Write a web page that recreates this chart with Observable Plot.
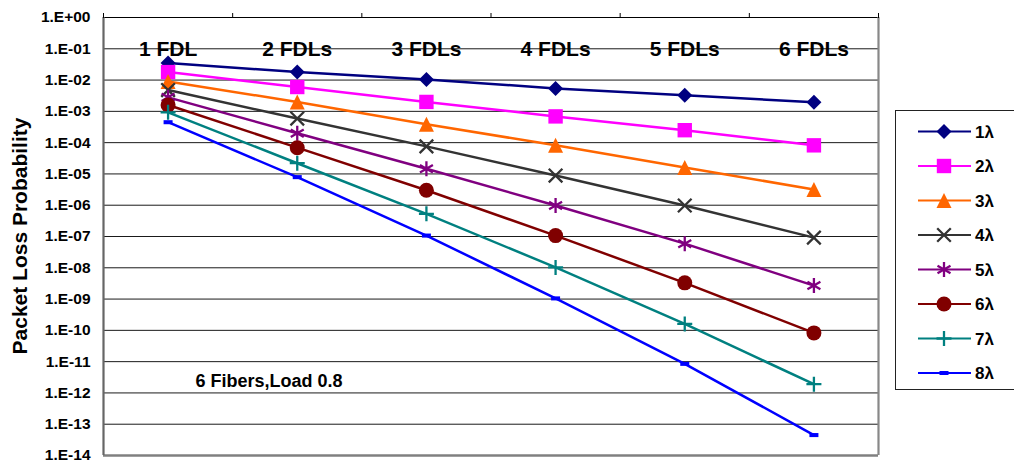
<!DOCTYPE html>
<html>
<head>
<meta charset="utf-8">
<script src="https://cdn.jsdelivr.net/npm/d3@7"></script>
<script src="https://cdn.jsdelivr.net/npm/@observablehq/plot@0.6"></script>
<style>
  html, body { margin: 0; padding: 0; background: #fff; overflow: hidden; }
  #wrap { position: relative; width: 1014px; height: 462px; font-family: "Liberation Sans", Arial, sans-serif; font-weight: bold; }
  #ytitle { position: absolute; left: 20px; top: 236px; transform: translate(-50%, -50%) rotate(-90deg); white-space: nowrap; font-size: 21px; color: #000; }
  #legend { position: absolute; left: 895px; top: 110px; width: 140px; height: 280px; border: 1px solid #222; box-sizing: border-box; }
</style>
</head>
<body>
<div id="wrap">
  <div id="chart"></div>
  <div id="ytitle">Packet Loss Probability</div>
  <div id="legend"></div>
</div>
<script>
// ---- data ----
const categories = ["1 FDL", "2 FDLs", "3 FDLs", "4 FDLs", "5 FDLs", "6 FDLs"];
const seriesNames = ["1λ", "2λ", "3λ", "4λ", "5λ", "6λ", "7λ", "8λ"];
const lambda1 = [3.5e-2, 1.8e-2, 1.05e-2, 5.4e-3, 3.3e-3, 1.95e-3];
const lambda2 = [1.8e-2, 6.0e-3, 2.0e-3, 6.9e-4, 2.5e-4, 8.2e-5];
const lambda3 = [9.0e-3, 2.0e-3, 3.9e-4, 8.2e-5, 1.6e-5, 3.2e-6];
const lambda4 = [4.8e-3, 5.9e-4, 7.6e-5, 8.9e-6, 9.8e-7, 9.2e-8];
const lambda5 = [2.8e-3, 2.0e-4, 1.47e-5, 9.8e-7, 5.9e-8, 2.7e-9];
const lambda6 = [1.6e-3, 6.9e-5, 3.0e-6, 1.07e-7, 3.3e-9, 8.3e-11];
const lambda7 = [9.3e-4, 2.2e-5, 5.3e-7, 1.03e-8, 1.6e-10, 1.9e-12];
const lambda8 = [4.5e-4, 7.9e-6, 1.07e-7, 1.05e-9, 8.5e-12, 4.5e-14];
const yTicks = [1, 1e-1, 1e-2, 1e-3, 1e-4, 1e-5, 1e-6, 1e-7, 1e-8, 1e-9, 1e-10, 1e-11, 1e-12, 1e-13, 1e-14];
const noteText = "6 Fibers,Load 0.8";

// ---- styles ----
const values = [lambda1, lambda2, lambda3, lambda4, lambda5, lambda6, lambda7, lambda8];
const colors = ["#000080", "#FF00FF", "#FF6600", "#333333", "#800080", "#800000", "#008080", "#0000FF"];

const R = s => Math.sqrt(s / Math.PI);
const symDiamond = {draw(c, s) { const r = R(s); c.moveTo(0, -r); c.lineTo(r, 0); c.lineTo(0, r); c.lineTo(-r, 0); c.closePath(); }};
const symSquare = {draw(c, s) { const r = R(s); c.rect(-r, -r, 2 * r, 2 * r); }};
const symTriangle = {draw(c, s) { const r = R(s); c.moveTo(0, -r); c.lineTo(r, r); c.lineTo(-r, r); c.closePath(); }};
const symTimes = {draw(c, s) { const r = R(s); c.moveTo(-r, -r); c.lineTo(r, r); c.moveTo(r, -r); c.lineTo(-r, r); }};
const symAsterisk = {draw(c, s) { const r = R(s); const a = r * 0.866, b = r * 0.5;
  c.moveTo(0, -r); c.lineTo(0, r); c.moveTo(-a, -b); c.lineTo(a, b); c.moveTo(a, -b); c.lineTo(-a, b); }};
const symCircle = {draw(c, s) { const r = R(s); c.moveTo(r, 0); c.arc(0, 0, r, 0, 2 * Math.PI); }};
const symPlus = {draw(c, s) { const r = R(s); c.moveTo(0, -r); c.lineTo(0, r); c.moveTo(-r, 0); c.lineTo(r, 0); }};
const symDash = {draw(c, s) { const r = R(s); c.rect(-r, -r * 0.45, 2 * r, r * 0.9); }};

const markerStyles = [
  {symbol: symDiamond, r: 7.5, filled: true},
  {symbol: symSquare, r: 7.2, filled: true},
  {symbol: symTriangle, r: 7.5, filled: true},
  {symbol: symTimes, r: 6.8, filled: false},
  {symbol: symAsterisk, r: 7.5, filled: false},
  {symbol: symCircle, r: 7.5, filled: true},
  {symbol: symPlus, r: 7.5, filled: false},
  {symbol: symDash, r: 4.5, filled: true}
];

// tidy rows
const rows = [];
seriesNames.forEach((name, si) => {
  values[si].forEach((v, ci) => rows.push({series: name, si, cat: categories[ci], xi: ci + 1, value: v}));
});

const boundaries = d3.range(categories.length + 1).map(i => i + 0.5);
const fmtE = d => { const e = Math.round(Math.log10(d)); return "1.E" + (e >= 0 ? "+" : "-") + String(Math.abs(e)).padStart(2, "0"); };

const marks = [
  Plot.ruleY(yTicks.slice(1, -1), {stroke: "#1a1a1a", strokeWidth: 1}),
  Plot.ruleY([yTicks[0]], {stroke: "#000", strokeWidth: 1.2}),
  Plot.ruleY([yTicks[yTicks.length - 1]], {stroke: "#808080", strokeWidth: 2.5}),
  Plot.ruleX([boundaries[0]], {stroke: "#666", strokeWidth: 2.2}),
  Plot.ruleX([boundaries[boundaries.length - 1]], {stroke: "#888", strokeWidth: 2.2}),
  Plot.axisX({anchor: "top", ticks: boundaries, tickFormat: () => "", tickSize: 5, stroke: "#000", label: null}),
  Plot.axisY({ticks: yTicks, tickFormat: fmtE, tickSize: 0, tickPadding: 13, fontSize: 15.5, label: null}),
  Plot.text(categories, {x: (d, i) => i + 1, y: () => yTicks[1], text: d => d, fontSize: 21, fill: "#000"}),
  Plot.text([noteText], {x: () => 1.212, y: () => 2.4e-12, text: d => d, fontSize: 18, textAnchor: "start", fill: "#000"})
];

seriesNames.forEach((name, si) => {
  const data = rows.filter(d => d.si === si);
  marks.push(Plot.line(data, {x: "xi", y: "value", stroke: colors[si], strokeWidth: 2.5}));
});
seriesNames.forEach((name, si) => {
  const data = rows.filter(d => d.si === si);
  const ms = markerStyles[si];
  marks.push(Plot.dot(data, {
    x: "xi", y: "value", r: ms.r, symbol: ms.symbol,
    fill: ms.filled ? colors[si] : "none",
    stroke: ms.filled ? "none" : colors[si],
    strokeWidth: ms.filled ? 0 : 2.3
  }));
});

const chart = Plot.plot({
  width: 1014, height: 462,
  marginLeft: 103, marginRight: 136, marginTop: 17, marginBottom: 7,
  style: {fontFamily: "'Liberation Sans', Arial, sans-serif", fontWeight: "bold", color: "#000", background: "#fff", overflow: "visible"},
  x: {type: "linear", domain: [boundaries[0], boundaries[boundaries.length - 1]], axis: null},
  y: {type: "log", domain: [yTicks[yTicks.length - 1], yTicks[0]], axis: null},
  marks
});
document.getElementById("chart").appendChild(chart);

// legend
const legend = d3.select("#legend");
const lsvg = legend.append("svg").attr("width", 140).attr("height", 280).style("display", "block");
seriesNames.forEach((name, si) => {
  const cy = 20.5 + si * 34.5;
  const g = lsvg.append("g").attr("transform", `translate(0,${cy})`);
  g.append("line").attr("x1", 22).attr("x2", 75).attr("y1", 0).attr("y2", 0).attr("stroke", colors[si]).attr("stroke-width", 2);
  const ms = markerStyles[si];
  g.append("path").attr("transform", "translate(48,0)")
    .attr("d", d3.symbol(ms.symbol, ms.r * ms.r * Math.PI)())
    .attr("fill", ms.filled ? colors[si] : "none")
    .attr("stroke", ms.filled ? "none" : colors[si])
    .attr("stroke-width", 2.3);
  g.append("text").attr("x", 79).attr("y", 0).attr("dy", "0.36em").attr("font-size", 17).attr("font-weight", "bold")
    .attr("font-family", "'Liberation Sans', Arial, sans-serif").text(name);
});
</script>
</body>
</html>
